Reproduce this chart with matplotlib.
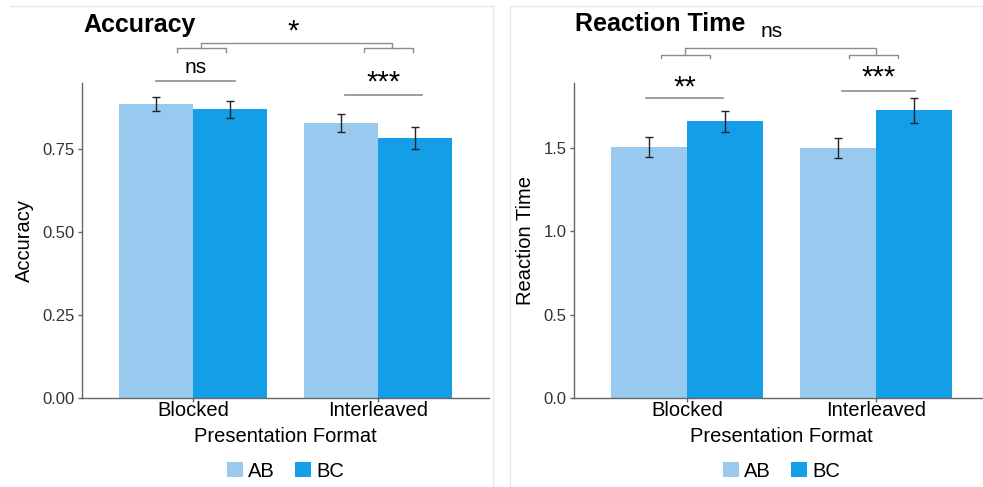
import numpy as np
from matplotlib import pyplot as plt
from matplotlib.lines import Line2D
from matplotlib.patches import Patch

plt.rcParams['font.family'] = ['Liberation Sans', 'DejaVu Sans']

# Data
formats = ['Blocked', 'Interleaved']
conditions = ['AB', 'BC']

acc_ab = [0.886, 0.828]
acc_bc = [0.870, 0.783]
acc_ab_err = [0.020, 0.027]
acc_bc_err = [0.025, 0.032]

rt_ab = [1.506, 1.500]
rt_bc = [1.659, 1.726]
rt_ab_err = [0.062, 0.060]
rt_bc_err = [0.063, 0.077]

acc_ticks = [0.00, 0.25, 0.50, 0.75]
acc_ticklabels = ['0.00', '0.25', '0.50', '0.75']
rt_ticks = [0.0, 0.5, 1.0, 1.5]
rt_ticklabels = ['0.0', '0.5', '1.0', '1.5']

# Significance labels: within-format pair, then between-format interaction
acc_sig = ['ns', '***', '*']
rt_sig = ['**', '***', 'ns']

col_ab = '#98c9ee'
col_bc = '#149ee8'
axis_col = '#666666'
sig_col = '#8c8c8c'

fig = plt.figure(figsize=(9.83, 4.87), dpi=100)
W, H = 983, 487


def make_axes(x0, x1, ytop, ybot):
    return fig.add_axes([x0 / W, (H - ybot) / H, (x1 - x0) / W, (ybot - ytop) / H])


def draw_panel(ax, ab, bc, ab_err, bc_err, ymax, ticks, ticklabels, ylabel):
    x = np.arange(1, len(formats) + 1)
    ax.bar(x - 0.2, ab, width=0.4, color=col_ab, zorder=2)
    ax.bar(x + 0.2, bc, width=0.4, color=col_bc, zorder=2)
    ax.errorbar(x - 0.2, ab, yerr=ab_err, fmt='none', ecolor='#222222',
                elinewidth=1, capsize=3, capthick=1, zorder=3)
    ax.errorbar(x + 0.2, bc, yerr=bc_err, fmt='none', ecolor='#222222',
                elinewidth=1, capsize=3, capthick=1, zorder=3)
    ax.set_xlim(0.4, 2.6)
    ax.set_ylim(0, ymax)
    ax.set_xticks(x)
    ax.set_xticklabels(formats, fontsize=14.5)
    ax.set_yticks(ticks)
    ax.set_yticklabels(ticklabels, fontsize=12, color='#333333')
    for s in ['top', 'right']:
        ax.spines[s].set_visible(False)
    for s in ['left', 'bottom']:
        ax.spines[s].set_color(axis_col)
        ax.spines[s].set_linewidth(1)
    ax.tick_params(length=3, color=axis_col, width=1, pad=2)
    ax.tick_params(axis='x', pad=-1)
    ax.set_xlabel('Presentation Format', fontsize=14.5, labelpad=5)
    ax.set_ylabel(ylabel, fontsize=14.5, labelpad=6)
    handles = [Patch(facecolor=col_ab, label=conditions[0]),
               Patch(facecolor=col_bc, label=conditions[1])]
    ax.legend(handles=handles, loc='center', bbox_to_anchor=(0.5, -0.232),
              ncol=2, frameon=False, fontsize=14.5, handlelength=0.8,
              handleheight=0.8, handletextpad=0.25, columnspacing=1.0,
              borderaxespad=0)


def sig_line(ax, x0, x1, y, text, ty, fs):
    ax.add_line(Line2D([x0, x1], [y, y], color=sig_col, lw=1.2, clip_on=False))
    ax.text((x0 + x1) / 2, ty, text, ha='center', va='center', fontsize=fs,
            clip_on=False)


def bracket(ax, x0, x1, y, drop):
    ax.add_line(Line2D([x0, x0, x1, x1], [y - drop, y, y, y - drop],
                       color=sig_col, lw=1, clip_on=False))


# Accuracy panel
ax1 = make_axes(82, 489, 83, 398)
draw_panel(ax1, acc_ab, acc_bc, acc_ab_err, acc_bc_err, 0.949,
           acc_ticks, acc_ticklabels, 'Accuracy')
fig.text(83 / W, 1 - 32 / H, 'Accuracy', fontsize=18, fontweight='bold',
         ha='left', va='baseline')
sig_line(ax1, 0.80, 1.225, 0.955, acc_sig[0], 0.996, 15)
sig_line(ax1, 1.82, 2.24, 0.913, acc_sig[1], 0.950, 21)
bracket(ax1, 0.912, 1.177, 1.053, 0.012)
bracket(ax1, 1.926, 2.190, 1.053, 0.012)
bracket(ax1, 1.043, 2.074, 1.071, 0.018)
ax1.text(1.542, 1.105, acc_sig[2], ha='center', va='center', fontsize=21)

# Reaction time panel
ax2 = make_axes(573.6, 989.4, 83, 398)
draw_panel(ax2, rt_ab, rt_bc, rt_ab_err, rt_bc_err, 1.89,
           rt_ticks, rt_ticklabels, 'Reaction Time')
fig.text(575 / W, 1 - 31 / H, 'Reaction Time', fontsize=18, fontweight='bold',
         ha='left', va='baseline')
sig_line(ax2, 0.781, 1.192, 1.80, rt_sig[0], 1.865, 21)
sig_line(ax2, 1.818, 2.206, 1.84, rt_sig[1], 1.92, 21)
bracket(ax2, 0.862, 1.122, 2.06, 0.02)
bracket(ax2, 1.857, 2.118, 2.06, 0.02)
bracket(ax2, 0.989, 1.998, 2.10, 0.04)
ax2.text(1.448, 2.20, rt_sig[2], ha='center', va='center', fontsize=15)

# faint panel frames
frame = '#e8e8e8'
fig.add_artist(Line2D([10 / W, 493 / W], [1 - 6 / H, 1 - 6 / H], color=frame, lw=1))
fig.add_artist(Line2D([493 / W, 493 / W], [1 - 6 / H, 0], color=frame, lw=1))
fig.add_artist(Line2D([510 / W, 1], [1 - 6 / H, 1 - 6 / H], color=frame, lw=1))
fig.add_artist(Line2D([510 / W, 510 / W], [1 - 6 / H, 0], color=frame, lw=1))

fig.savefig('out.png', dpi=100)
